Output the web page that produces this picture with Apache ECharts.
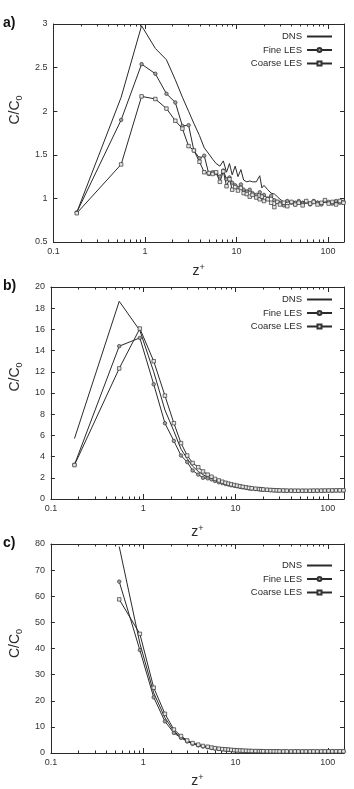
<!DOCTYPE html>
<html>
<head>
<meta charset="utf-8">
<script src="https://cdn.jsdelivr.net/npm/echarts@6/dist/echarts.min.js"></script>
<style>
html,body{margin:0;padding:0;background:#fff;}
#chart{width:354px;height:789px;}
</style>
</head>
<body>
<div id="chart"></div>
<script>
// wall distance z+ (shared by all series)
var zPlus = [0.18, 0.55, 0.92, 1.3, 1.72, 2.15, 2.57, 3.0, 3.43, 3.95, 4.45, 5.0, 5.5, 6.0, 6.6, 7.2, 7.8, 8.4, 9.0, 9.7,
    10.4, 11.2, 12, 13, 14, 15, 16.5, 18, 19, 20, 22, 24, 26, 28, 30, 33, 36, 40, 44, 48,
    53, 58, 64, 70, 77, 85, 93, 102, 112, 123, 135, 148];

// a)
var dnsA = [0.84, 2.16, 2.98, 2.72, 2.59, 2.36, 2.16, 2.0, 1.86, 1.72, 1.58, 1.51, 1.45, 1.40, 1.37, 1.43, 1.30, 1.40, 1.27, 1.37,
    1.25, 1.33, 1.21, 1.19, 1.20, 1.19, 1.19, 1.26, 1.12, 1.15, 1.10, 1.06, 1.05, 1.02, 0.99, 0.96, 0.98, 0.95, 0.97, 0.94,
    0.97, 0.95, 0.96, 0.94, 0.97, 0.95, 0.96, 0.94, 0.96, 0.95, 0.97, 0.95];
var fineA = [0.84, 1.90, 2.54, 2.43, 2.20, 2.10, 1.83, 1.84, 1.55, 1.46, 1.49, 1.28, 1.30, 1.29, 1.25, 1.32, 1.22, 1.24, 1.18, 1.15,
    1.12, 1.16, 1.10, 1.08, 1.10, 1.06, 1.04, 1.07, 1.02, 1.04, 1.00, 1.03, 0.98, 0.96, 0.95, 0.92, 0.97, 0.95, 0.93, 0.97,
    0.94, 0.96, 0.93, 0.97, 0.95, 0.93, 0.97, 0.96, 0.94, 0.97, 0.95, 0.96];
var coarseA = [0.83, 1.39, 2.17, 2.14, 2.03, 1.89, 1.80, 1.60, 1.55, 1.42, 1.30, 1.29, 1.28, 1.30, 1.19, 1.31, 1.14, 1.22, 1.10, 1.13,
    1.09, 1.12, 1.06, 1.05, 1.02, 1.04, 1.01, 0.99, 1.02, 0.97, 0.99, 0.95, 0.90, 0.96, 0.93, 0.95, 0.91, 0.96, 0.93, 0.95,
    0.92, 0.97, 0.94, 0.96, 0.93, 0.95, 0.98, 0.94, 0.96, 0.93, 0.97, 0.95];

// b)
var dnsB = [5.7, 18.65, 15.9, 12.0, 8.4, 6.4, 4.7, 3.8, 3.1, 2.6, 2.3, 2.05, 1.9, 1.75, 1.62, 1.52, 1.45, 1.38, 1.32, 1.27,
    1.22, 1.17, 1.12, 1.07, 1.03, 1.0, 0.97, 0.94, 0.92, 0.9, 0.88, 0.86, 0.85, 0.84, 0.83, 0.82, 0.82, 0.81, 0.81, 0.8,
    0.8, 0.8, 0.8, 0.8, 0.8, 0.8, 0.81, 0.81, 0.82, 0.82, 0.83, 0.83];
var fineB = [3.23, 14.42, 15.2, 10.82, 7.15, 5.48, 4.10, 3.48, 2.69, 2.3, 2.0, 1.95, 1.85, 1.7, 1.58, 1.5, 1.42, 1.36, 1.3, 1.25,
    1.2, 1.15, 1.1, 1.05, 1.0, 0.97, 0.94, 0.92, 0.9, 0.88, 0.86, 0.84, 0.82, 0.81, 0.8, 0.79, 0.78, 0.78, 0.77, 0.77,
    0.77, 0.77, 0.77, 0.77, 0.78, 0.78, 0.78, 0.79, 0.79, 0.8, 0.8, 0.81];
var coarseB = [3.2, 12.32, 16.08, 13.0, 9.75, 7.15, 5.27, 4.1, 3.4, 3.0, 2.6, 2.3, 2.1, 1.9, 1.75, 1.63, 1.53, 1.45, 1.38, 1.32,
    1.26, 1.2, 1.15, 1.1, 1.05, 1.01, 0.97, 0.94, 0.92, 0.9, 0.87, 0.85, 0.83, 0.82, 0.81, 0.8, 0.79, 0.79, 0.78, 0.78,
    0.78, 0.78, 0.78, 0.79, 0.79, 0.79, 0.8, 0.8, 0.81, 0.81, 0.82, 0.82];

// c)
var dnsC = [null, 79, 42, 23, 13.5, 8.3, 6.0, 4.6, 3.7, 3.1, 2.6, 2.3, 2.0, 1.8, 1.6, 1.45, 1.35, 1.25, 1.15, 1.08,
    1.0, 0.95, 0.9, 0.85, 0.8, 0.77, 0.74, 0.71, 0.7, 0.68, 0.66, 0.64, 0.63, 0.62, 0.61, 0.6, 0.6, 0.6, 0.6, 0.6,
    0.6, 0.6, 0.6, 0.6, 0.6, 0.6, 0.6, 0.6, 0.61, 0.61, 0.62, 0.62];
var fineC = [null, 65.6, 39.4, 21.3, 12.1, 7.7, 5.8, 4.4, 3.5, 2.9, 2.5, 2.2, 1.9, 1.7, 1.55, 1.4, 1.3, 1.2, 1.1, 1.03,
    0.96, 0.9, 0.85, 0.8, 0.76, 0.73, 0.7, 0.68, 0.66, 0.65, 0.63, 0.62, 0.61, 0.6, 0.6, 0.59, 0.59, 0.59, 0.59, 0.6,
    0.6, 0.6, 0.6, 0.6, 0.6, 0.61, 0.61, 0.61, 0.62, 0.62, 0.63, 0.63];
var coarseC = [null, 58.8, 45.6, 25.0, 15.0, 9.0, 6.5, 4.8, 3.8, 3.2, 2.7, 2.4, 2.1, 1.85, 1.65, 1.5, 1.4, 1.3, 1.2, 1.1,
    1.02, 0.96, 0.9, 0.85, 0.8, 0.77, 0.74, 0.71, 0.69, 0.67, 0.65, 0.64, 0.63, 0.62, 0.61, 0.61, 0.6, 0.6, 0.6, 0.6,
    0.6, 0.61, 0.61, 0.61, 0.62, 0.62, 0.62, 0.63, 0.63, 0.64, 0.64, 0.65];

var seriesNames = ['DNS', 'Fine LES', 'Coarse LES'];
var panelLabels = ['a)', 'b)', 'c)'];
var majorTicks = [0.1, 1, 10, 100];
var minorTicks = [0.2, 0.3, 0.4, 0.5, 0.6, 0.7, 0.8, 0.9, 2, 3, 4, 5, 6, 7, 8, 9, 20, 30, 40, 50, 60, 70, 80, 90];

var FONT = 'Liberation Sans, Arial, sans-serif';
var INK = '#2a2a2a';

// 面板布局
var panels = [
    {top: 24, height: 218, min: 0.5, max: 3, interval: 0.5, nameGap: 21, nameShift: 46, legendTop: 31, data: [dnsA, fineA, coarseA]},
    {top: 287, height: 212, min: 0, max: 20, interval: 2, nameGap: 25, nameShift: 32, legendTop: 294, data: [dnsB, fineB, coarseB]},
    {top: 544, height: 213, min: 0, max: 80, interval: 10, nameGap: 20, nameShift: 10, legendTop: 560, data: [dnsC, fineC, coarseC]}
];

function pairs(ys){
    return zPlus.map(function(z, i){ return [z, ys[i]]; });
}

var chart = echarts.init(document.getElementById('chart'), null, {renderer: 'canvas'});

var option = {
    animation: false,
    backgroundColor: '#fff',
    title: [],
    legend: [],
    grid: [],
    xAxis: [],
    yAxis: [],
    series: []
};

panels.forEach(function(p, gi){
    option.title.push({
        text: panelLabels[gi],
        left: 3,
        top: p.top - 8,
        padding: 0,
        textStyle: {fontFamily: FONT, fontSize: 14, fontWeight: 'bold', color: '#111'}
    });
    option.grid.push({left: 41, right: 10, top: p.top, height: p.height});
    option.legend.push({
        orient: 'vertical',
        right: 21,
        top: p.legendTop,
        align: 'right',
        padding: 0,
        itemWidth: 25,
        itemHeight: 5,
        itemGap: 2.5,
        textStyle: {fontFamily: FONT, fontSize: 9.5, color: INK, lineHeight: 11},
        // DNS 图例只画线
        data: [
            {name: seriesNames[0], itemStyle: {opacity: 0, borderWidth: 0}},
            seriesNames[1],
            seriesNames[2]
        ]
    });

    var lineStyle = {color: INK, width: 1};
    var xBase = {
        gridIndex: gi, type: 'log', logBase: 10, min: 0.1, max: 150,
        splitLine: {show: false}
    };
    // 底部主轴
    option.xAxis.push(Object.assign({}, xBase, {
        position: 'bottom',
        axisLine: {onZero: false, lineStyle: lineStyle},
        axisTick: {inside: true, length: 5, lineStyle: lineStyle, customValues: majorTicks},
        axisLabel: {fontFamily: FONT, fontSize: 9, color: '#333', margin: 5, customValues: majorTicks},
        name: '{z|z}{s|+}',
        nameLocation: 'middle',
        nameGap: p.nameGap,
        nameTextStyle: {
            rich: {
                z: {fontFamily: FONT, fontSize: 14, color: INK, lineHeight: 16},
                s: {fontFamily: FONT, fontSize: 9, color: INK, verticalAlign: 'top', lineHeight: 16}
            }
        }
    }));
    // 底部次刻度
    option.xAxis.push(Object.assign({}, xBase, {
        position: 'bottom',
        axisLine: {show: false, onZero: false},
        axisTick: {inside: true, length: 2.5, lineStyle: lineStyle, customValues: minorTicks},
        axisLabel: {show: false}
    }));
    // 顶部
    option.xAxis.push(Object.assign({}, xBase, {
        position: 'top',
        axisLine: {onZero: false, lineStyle: lineStyle},
        axisTick: {inside: true, length: 5, lineStyle: lineStyle, customValues: majorTicks},
        axisLabel: {show: false}
    }));
    option.xAxis.push(Object.assign({}, xBase, {
        position: 'top',
        axisLine: {show: false, onZero: false},
        axisTick: {inside: true, length: 2.5, lineStyle: lineStyle, customValues: minorTicks},
        axisLabel: {show: false}
    }));

    var yBase = {gridIndex: gi, type: 'value', min: p.min, max: p.max, interval: p.interval, splitLine: {show: false}};
    option.yAxis.push(Object.assign({}, yBase, {
        position: 'left',
        axisLine: {show: true, onZero: false, lineStyle: lineStyle},
        axisTick: {inside: true, length: 4, lineStyle: lineStyle},
        axisLabel: {fontFamily: FONT, fontSize: 9, color: '#333', margin: 6},
        name: '{c|C/C}{s|0}',
        nameLocation: 'middle',
        nameGap: 21,
        nameTextStyle: {
            padding: [0, 0, 0, p.nameShift],
            rich: {
                c: {fontFamily: FONT, fontSize: 14, color: INK, lineHeight: 18},
                s: {fontFamily: FONT, fontSize: 9, color: INK, verticalAlign: 'bottom', lineHeight: 12}
            }
        }
    }));
    option.yAxis.push(Object.assign({}, yBase, {
        position: 'right',
        axisLine: {show: true, onZero: false, lineStyle: lineStyle},
        axisTick: {inside: true, length: 4, lineStyle: lineStyle},
        axisLabel: {show: false}
    }));

    var xi = gi * 4, yi = gi * 2;
    option.series.push({
        name: 'DNS', type: 'line', xAxisIndex: xi, yAxisIndex: yi,
        symbol: 'none', lineStyle: lineStyle, itemStyle: {color: INK},
        data: pairs(p.data[0])
    });
    option.series.push({
        name: 'Fine LES', type: 'line', xAxisIndex: xi, yAxisIndex: yi,
        symbol: 'circle', symbolSize: 3.5, showAllSymbol: true,
        lineStyle: lineStyle,
        itemStyle: {color: '#a0a0a0', borderColor: '#333', borderWidth: 0.7},
        data: pairs(p.data[1])
    });
    option.series.push({
        name: 'Coarse LES', type: 'line', xAxisIndex: xi, yAxisIndex: yi,
        symbol: 'rect', symbolSize: 3.5, showAllSymbol: true,
        lineStyle: lineStyle,
        itemStyle: {color: '#e6e6e6', borderColor: '#333', borderWidth: 0.7},
        data: pairs(p.data[2])
    });
});

chart.setOption(option);
</script>
</body>
</html>
